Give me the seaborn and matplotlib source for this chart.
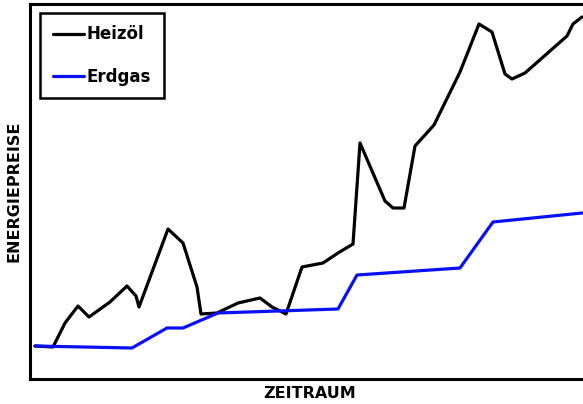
import numpy as np
import pandas as pd
import matplotlib
matplotlib.use("Agg")
import matplotlib.pyplot as plt
import seaborn as sns

# time axis (arbitrary units) and price level (arbitrary units)
heizoel_t = [5, 23, 35, 48, 59, 80, 97, 106, 109, 138, 153, 167, 171, 187, 208, 230,
             242, 256, 272, 293, 308, 323, 330, 355, 363, 374, 385, 404, 430, 449, 462,
             475, 482, 495, 537, 543, 552]
heizoel_p = [33, 32, 56, 73, 62, 77, 93, 83, 72, 150, 136, 92, 65, 66, 76, 81,
             72, 65, 112, 116, 126, 135, 236, 178, 171, 171, 233, 254, 307, 355, 347,
             305, 300, 306, 343, 355, 362]

erdgas_t = [5, 102, 137, 153, 188, 308, 327, 430, 463, 552]
erdgas_p = [33, 31, 51, 51, 66, 70, 104, 111, 157, 166]

series_names = ["Heizöl", "Erdgas"]
colors = ["#000000", "#0a10f5"]


def main():
    sns.set_style("white")
    plt.rcParams['font.family'] = ['DejaVu Sans']
    plt.rcParams['text.color'] = 'black'
    plt.rcParams['axes.labelcolor'] = 'black'

    df = pd.concat([
        pd.DataFrame({"t": heizoel_t, "p": heizoel_p, "serie": series_names[0]}),
        pd.DataFrame({"t": erdgas_t, "p": erdgas_p, "serie": series_names[1]}),
    ])

    fig = plt.figure(figsize=(5.83, 4.04), dpi=100)
    ax = fig.add_axes([30 / 583, 25 / 404, 560 / 583, 375 / 404])

    sns.lineplot(data=df, x="t", y="p", hue="serie", palette=colors,
                 linewidth=2.3, sort=False, estimator=None, ax=ax)

    ax.set_xlim(0, 560)
    ax.set_ylim(0, 375)
    ax.set_xticks([])
    ax.set_yticks([])
    for s in ax.spines.values():
        s.set_color("black")
        s.set_linewidth(2.2)

    ax.set_xlabel("ZEITRAUM", fontsize=11.5, fontweight="bold", labelpad=5)
    ax.set_ylabel("ENERGIEPREISE", fontsize=11.5, fontweight="bold", labelpad=6)

    leg = ax.legend(loc="upper left", bbox_to_anchor=(40 / 583, 1 - 13 / 404),
                    bbox_transform=fig.transFigure, frameon=True, fancybox=False,
                    framealpha=1, fontsize=12, handlelength=1.9,
                    handletextpad=0.15, labelspacing=1.45, borderpad=0.75,
                    borderaxespad=0)
    leg.get_frame().set_linewidth(1.8)
    leg.get_frame().set_edgecolor("black")
    for txt in leg.get_texts():
        txt.set_fontweight("bold")
        txt.set_color("black")
    for line in leg.get_lines():
        line.set_linewidth(2.3)

    fig.savefig("out.png", dpi=100)


if __name__ == '__main__':
    main()
